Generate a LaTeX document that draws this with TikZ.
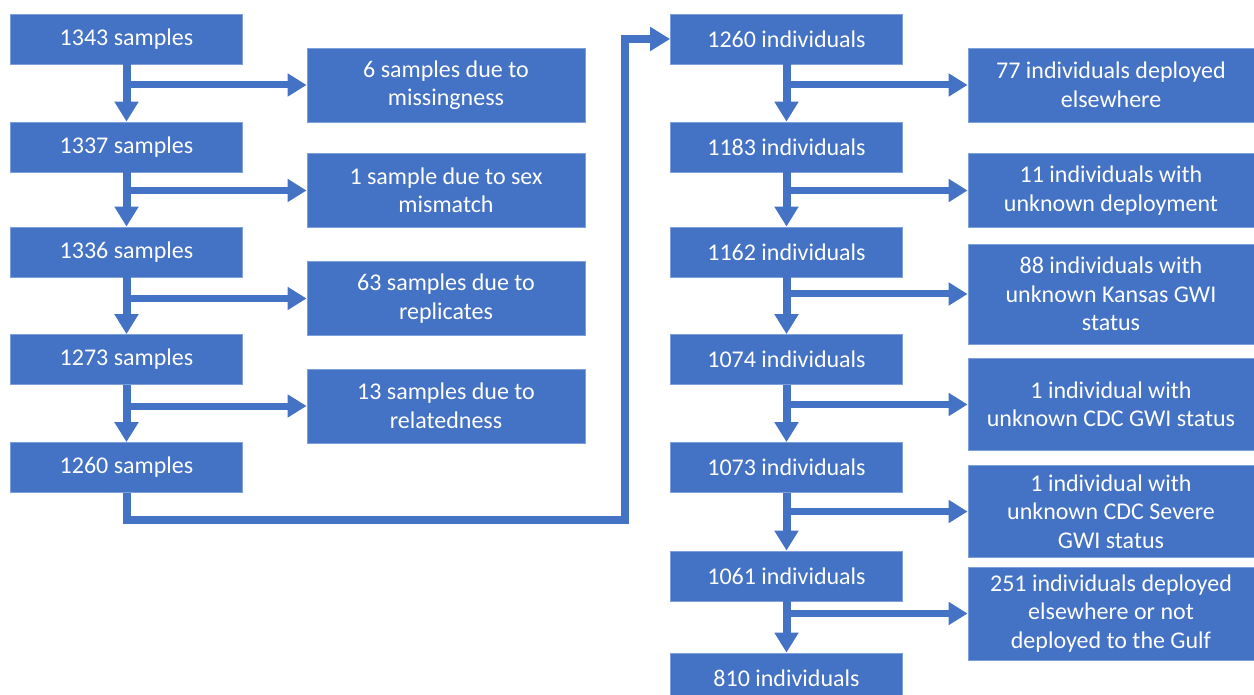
\documentclass[tikz,border=0pt]{standalone}
\usepackage{fontspec}
\setmainfont{Carlito}
\usetikzlibrary{arrows.meta}
\definecolor{boxblue}{RGB}{68,114,196}
\definecolor{edgeblue}{RGB}{125,160,218}
\begin{document}
\begin{tikzpicture}[x=1pt,y=-1pt,
  box/.style={fill=boxblue, draw=edgeblue, line width=0.8pt, text=white, align=center,
    inner sep=0pt, font=\fontsize{24}{28.5}\selectfont},
  mainbox/.style={box, minimum width=232pt, minimum height=50pt},
  lside/.style={box, minimum width=278pt},
  rside/.style={box, minimum width=286pt},
  flow/.style={draw=boxblue, line width=8pt, line join=miter, -{Triangle[width=23pt,length=20pt]}},
  branch/.style={draw=boxblue, line width=7pt, -{Triangle[width=22pt,length=19pt]}},
]
\useasboundingbox (0,0) rectangle (1254,695);
\clip (0,0) rectangle (1254,695);

% left column
\node[mainbox] (s1) at (126.5,39) {1343 samples};
\node[mainbox] (s2) at (126.5,147) {1337 samples};
\node[mainbox] (s3) at (126.5,252) {1336 samples};
\node[mainbox] (s4) at (126.5,359.5) {1273 samples};
\node[mainbox] (s5) at (126.5,467.5) {1260 samples};

\node[lside, minimum height=74pt] (x1) at (446,85) {6 samples due to\\missingness};
\node[lside, minimum height=74pt] (x2) at (446,190.5) {1 sample due to sex\\mismatch};
\node[lside, minimum height=74pt] (x3) at (446,298.5) {63 samples due to\\replicates};
\node[lside, minimum height=74pt] (x4) at (446,406) {13 samples due to\\relatedness};

% right column
\node[mainbox] (i1) at (786.5,39) {1260 individuals};
\node[mainbox] (i2) at (786.5,147) {1183 individuals};
\node[mainbox] (i3) at (786.5,252) {1162 individuals};
\node[mainbox] (i4) at (786.5,359.5) {1074 individuals};
\node[mainbox] (i5) at (786.5,467.5) {1073 individuals};
\node[mainbox] (i6) at (786.5,576) {1061 individuals};
\node[mainbox] (i7) at (786.5,678) {810 individuals};

\node[rside, minimum height=74pt] (y1) at (1111,85) {77 individuals deployed\\elsewhere};
\node[rside, minimum height=74pt] (y2) at (1111,190.5) {11 individuals with\\unknown deployment};
\node[rside, minimum height=100pt] (y3) at (1111,294) {88 individuals with\\unknown Kansas GWI\\status};
\node[rside, minimum height=92pt] (y4) at (1111,404.5) {1 individual with\\unknown CDC GWI status};
\node[rside, minimum height=92pt] (y5) at (1111,511.5) {1 individual with\\unknown CDC Severe\\GWI status};
\node[rside, minimum height=93pt] (y6) at (1111,613.5) {251 individuals deployed\\elsewhere or not\\deployed to the Gulf};

% vertical flow, left
\draw[flow] (s1.south) -- (s2.north);
\draw[flow] (s2.south) -- (s3.north);
\draw[flow] (s3.south) -- (s4.north);
\draw[flow] (s4.south) -- (s5.north);
% branches, left
\draw[branch] (s1.south |- x1.west) -- (x1.west);
\draw[branch] (s2.south |- x2.west) -- (x2.west);
\draw[branch] (s3.south |- x3.west) -- (x3.west);
\draw[branch] (s4.south |- x4.west) -- (x4.west);

% link between columns
\coordinate (turn) at (625,520);
\draw[flow] (s5.south) |- (turn) |- (i1.west);

% vertical flow, right
\draw[flow] (i1.south) -- (i2.north);
\draw[flow] (i2.south) -- (i3.north);
\draw[flow] (i3.south) -- (i4.north);
\draw[flow] (i4.south) -- (i5.north);
\draw[flow] (i5.south) -- (i6.north);
\draw[flow] (i6.south) -- (i7.north);
% branches, right
\draw[branch] (i1.south |- y1.west) -- (y1.west);
\draw[branch] (i2.south |- y2.west) -- (y2.west);
\draw[branch] (i3.south |- y3.west) -- (y3.west);
\draw[branch] (i4.south |- y4.west) -- (y4.west);
\draw[branch] (i5.south |- y5.west) -- (y5.west);
\draw[branch] (i6.south |- y6.west) -- (y6.west);
\end{tikzpicture}
\end{document}
